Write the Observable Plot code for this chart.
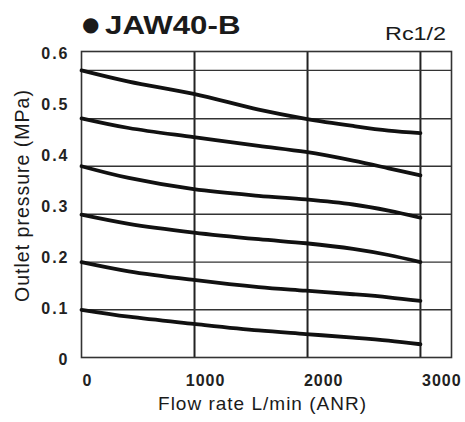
<!DOCTYPE html>
<html>
<head>
<meta charset="utf-8">
<script src="https://cdn.jsdelivr.net/npm/d3@7"></script>
<script src="https://cdn.jsdelivr.net/npm/@observablehq/plot@0.6"></script>
<style>
  body { margin: 0; background: #fff; font-family: "Liberation Sans", Arial, sans-serif; }
  #wrap { position: relative; width: 465px; height: 422px; background: #fff; }
  #head { position: relative; width: 465px; height: 40px; }
  #bullet { position: absolute; left: 82px; top: 14px; font-family: "DejaVu Sans", sans-serif; font-size: 20px; line-height: 20px; color: #1a1a1a; }
  #title { position: absolute; left: 105px; top: 13px; font-size: 25px; line-height: 25px; font-weight: bold; color: #1a1a1a; white-space: nowrap; transform: scaleX(1.25); transform-origin: 0 0; }
  #port { position: absolute; left: 385px; top: 25px; font-size: 18px; line-height: 18px; color: #1a1a1a; white-space: nowrap; transform: scaleX(1.3); transform-origin: 0 0; }
  svg g[aria-label="y-axis tick label"] text { letter-spacing: 2px; }
  svg g[aria-label="x-axis tick label"] text { letter-spacing: 1px; }
  svg g[aria-label="text"] text { letter-spacing: 1px; }
</style>
</head>
<body>
<div id="wrap">
  <div id="head">
    <span id="bullet">●</span>
    <span id="title">JAW40-B</span>
    <span id="port">Rc1/2</span>
  </div>
  <div id="chart"></div>
</div>
<script>
// Tick labels and grid positions
const flowTicks = [0, 1000, 2000, 3000];
const pressureTicks = [0, 0.1, 0.2, 0.3, 0.4, 0.5, 0.6];
const flowGrid = [957, 1914, 2870];
const pressureGrid = [0.0935, 0.187, 0.281, 0.375, 0.468, 0.563];

// Flow rate sample points (L/min ANR)
const flowRate = [0, 400, 950, 1500, 1900, 2300, 2600, 2870];

// Outlet pressure curves (MPa), one per set pressure
const curveA = [0.563, 0.541, 0.517, 0.486, 0.468, 0.454, 0.445, 0.440];
const curveB = [0.469, 0.450, 0.432, 0.415, 0.403, 0.386, 0.371, 0.357];
const curveC = [0.375, 0.352, 0.330, 0.317, 0.310, 0.300, 0.288, 0.274];
const curveD = [0.280, 0.262, 0.245, 0.232, 0.224, 0.213, 0.201, 0.187];
const curveE = [0.187, 0.169, 0.152, 0.138, 0.131, 0.124, 0.118, 0.111];
const curveF = [0.0935, 0.080, 0.066, 0.053, 0.046, 0.039, 0.033, 0.026];

const curves = [curveA, curveB, curveC, curveD, curveE, curveF];
const rows = curves.flatMap((vals, i) =>
  flowRate.map((f, j) => ({series: i, flow: f, pressure: vals[j]}))
);

const chart = Plot.plot({
  width: 465,
  height: 382,
  marginTop: 11,
  marginBottom: 65,
  marginLeft: 81,
  marginRight: 14,
  style: {fontFamily: '"Liberation Sans", Arial, sans-serif', color: "#222", background: "#fff"},
  x: {domain: [0, 3133]},
  y: {domain: [0, 0.6]},
  marks: [
    Plot.ruleX(flowGrid, {stroke: "#222", strokeWidth: 2}),
    Plot.ruleY(pressureGrid, {stroke: "#333", strokeWidth: 1.4}),
    Plot.frame({stroke: "#333", strokeWidth: 1.6}),
    Plot.line(rows, {x: "flow", y: "pressure", z: "series", curve: "catmull-rom", stroke: "#111", strokeWidth: 3.8}),
    Plot.axisX({ticks: flowTicks, tickSize: 0, tickPadding: 17, dx: 6, fontSize: 16, fontWeight: "bold", label: null,
      tickFormat: d => String(d)}),
    Plot.axisY({ticks: pressureTicks, tickSize: 0, tickPadding: 12, dy: 2, fontSize: 16, fontWeight: "bold", label: null,
      tickFormat: d => d === 0 ? "0" : d.toFixed(1)}),
    Plot.text(["Flow rate L/min (ANR)"], {frameAnchor: "bottom", dy: 52, dx: -4, fontSize: 19, fill: "#1a1a1a"}),
    Plot.text(["Outlet pressure (MPa)"], {frameAnchor: "left", textAnchor: "middle", dx: -59, dy: -9, rotate: -90, fontSize: 19.5, fill: "#1a1a1a"})
  ]
});
document.getElementById("chart").appendChild(chart);
</script>
</body>
</html>
